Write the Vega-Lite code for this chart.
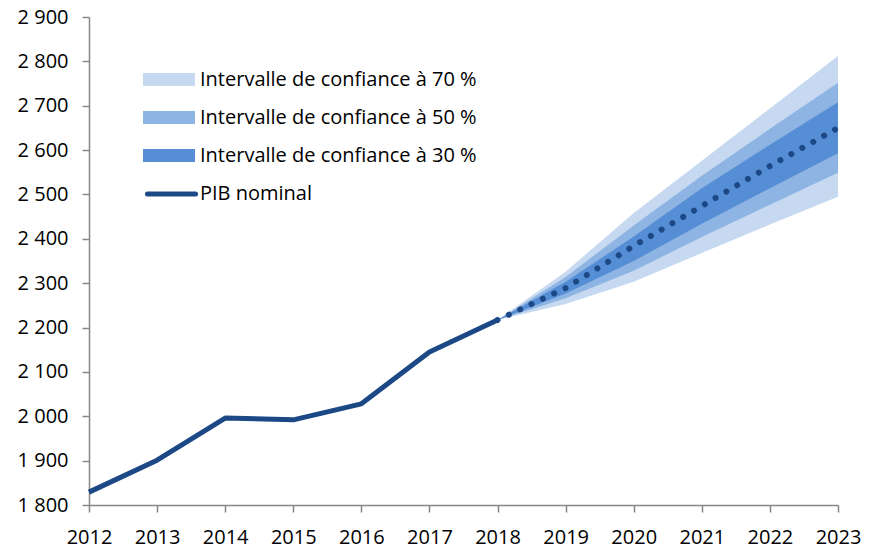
{
  "$schema": "https://vega.github.io/schema/vega-lite/v6.json",
  "width": 749,
  "height": 488,
  "autosize": "none",
  "padding": {"left": 89, "top": 17, "right": 32, "bottom": 43},
  "background": "white",
  "config": {
    "view": {"stroke": null},
    "font": "Open Sans",
    "axis": {"labelFont": "Open Sans", "labelFontSize": 20, "labelColor": "#000000", "domainColor": "#878787", "tickColor": "#878787", "domainWidth": 1.5, "tickWidth": 1.5, "grid": false, "title": null}
  },
  "datasets": {
    "hist": [
      {"year": 2012, "pib": 1829},
      {"year": 2013, "pib": 1901},
      {"year": 2014, "pib": 1996},
      {"year": 2015, "pib": 1992},
      {"year": 2016, "pib": 2028},
      {"year": 2017, "pib": 2145},
      {"year": 2018, "pib": 2217}
    ],
    "prev": [
      {"year": 2018, "pib": 2217, "lo70": 2217, "hi70": 2217, "lo50": 2217, "hi50": 2217, "lo30": 2217, "hi30": 2217},
      {"year": 2019, "pib": 2289, "lo70": 2253, "hi70": 2326, "lo50": 2266, "hi50": 2314, "lo30": 2277, "hi30": 2303},
      {"year": 2020, "pib": 2384, "lo70": 2303, "hi70": 2458, "lo50": 2328, "hi50": 2430, "lo30": 2350, "hi30": 2405},
      {"year": 2021, "pib": 2474, "lo70": 2368, "hi70": 2576, "lo50": 2404, "hi50": 2542, "lo30": 2434, "hi30": 2514},
      {"year": 2022, "pib": 2564, "lo70": 2432, "hi70": 2694, "lo50": 2477, "hi50": 2648, "lo30": 2514, "hi30": 2612},
      {"year": 2023, "pib": 2650, "lo70": 2495, "hi70": 2812, "lo50": 2549, "hi50": 2752, "lo30": 2593, "hi30": 2708}
    ]
  },
  "encoding": {
    "x": {"field": "year", "type": "quantitative", "scale": {"domain": [2012, 2023], "nice": false, "zero": false},
      "axis": {"values": [2012,2013,2014,2015,2016,2017,2018,2019,2020,2021,2022,2023], "format": "d", "tickSize": 7, "labelPadding": 15, "labelFlush": false, "labelOverlap": false}}
  },
  "layer": [
    {
      "data": {"name": "prev"},
      "mark": {"type": "area", "opacity": 1},
      "encoding": {
        "y": {"field": "lo70", "type": "quantitative", "scale": {"domain": [1800, 2900], "nice": false, "zero": false},
          "axis": {"values": [1800,1900,2000,2100,2200,2300,2400,2500,2600,2700,2800,2900], "labelExpr": "replace(format(datum.value, ','), ',', ' ')", "tickSize": 7, "labelPadding": 14}},
        "y2": {"field": "hi70"},
        "fill": {"datum": "Intervalle de confiance à 70 %", "type": "nominal",
          "scale": {"domain": ["Intervalle de confiance à 70 %", "Intervalle de confiance à 50 %", "Intervalle de confiance à 30 %"], "range": ["#c6d9f0", "#8eb4e3", "#558ed5"]},
          "legend": {"title": null, "orient": "none", "legendX": 54, "legendY": 49.5, "padding": 0, "symbolType": "M-1,-0.5H3V0.5H-1Z", "symbolSize": 676, "symbolStrokeWidth": 0, "symbolOpacity": 1, "labelFont": "Open Sans", "labelFontSize": 20, "labelColor": "#000000", "labelOffset": 31, "rowPadding": 15, "labelLimit": 400}}
      }
    },
    {
      "data": {"name": "prev"},
      "mark": {"type": "area", "opacity": 1},
      "encoding": {
        "y": {"field": "lo50", "type": "quantitative"},
        "y2": {"field": "hi50"},
        "fill": {"datum": "Intervalle de confiance à 50 %", "type": "nominal"}
      }
    },
    {
      "data": {"name": "prev"},
      "mark": {"type": "area", "opacity": 1},
      "encoding": {
        "y": {"field": "lo30", "type": "quantitative"},
        "y2": {"field": "hi30"},
        "fill": {"datum": "Intervalle de confiance à 30 %", "type": "nominal"}
      }
    },
    {
      "data": {"name": "prev"},
      "mark": {"type": "line", "color": "#1d4886", "strokeWidth": 6, "strokeCap": "round", "strokeDash": [0.01, 12.5]},
      "encoding": {
        "y": {"field": "pib", "type": "quantitative"}
      }
    },
    {
      "data": {"name": "hist"},
      "mark": {"type": "line", "strokeWidth": 5, "strokeCap": "butt", "strokeJoin": "round"},
      "encoding": {
        "y": {"field": "pib", "type": "quantitative"},
        "stroke": {"datum": "PIB nominal", "type": "nominal",
          "scale": {"domain": ["PIB nominal"], "range": ["#1d4886"]},
          "legend": {"title": null, "orient": "none", "legendX": 54, "legendY": 161.5, "padding": 0, "symbolType": "M-0.85,0H2.85", "symbolSize": 676, "symbolStrokeWidth": 5, "symbolFillColor": "transparent", "labelFont": "Open Sans", "labelFontSize": 20, "labelColor": "#000000", "labelOffset": 26,
            "encode": {"symbols": {"update": {"strokeCap": {"value": "round"}, "fill": {"value": "transparent"}}}}}}
      }
    }
  ]
}
